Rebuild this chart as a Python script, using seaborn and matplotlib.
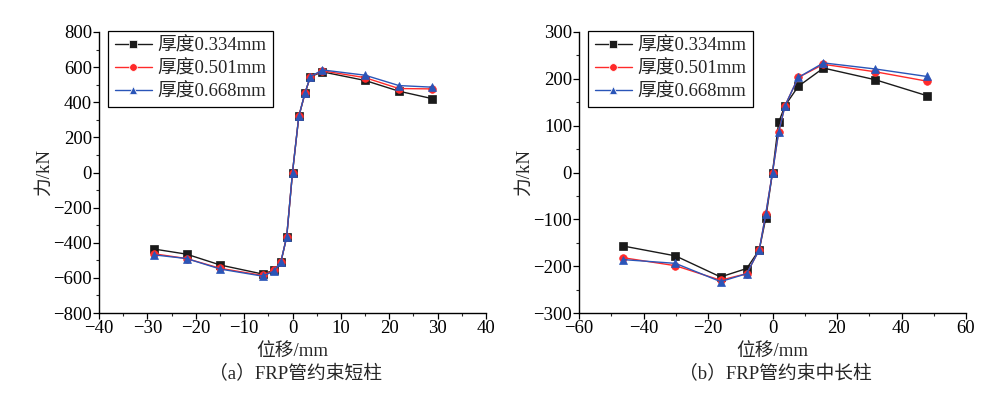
import numpy as np
import pandas as pd
import matplotlib
matplotlib.use("Agg")
import matplotlib.pyplot as plt
from matplotlib.ticker import MultipleLocator
import seaborn as sns

# ---- data ----
series_names = ["厚度0.334mm", "厚度0.501mm", "厚度0.668mm"]

# (a) short column
x_a = [-28.6, -21.9, -14.9, -6.2, -3.8, -2.4, -1.2, 0.0, 1.3, 2.6, 3.7, 6.2, 15.0, 22.0, 28.8]
y_a_334 = [-436, -465, -527, -578, -557, -510, -366, 0, 319, 453, 546, 573, 524, 463, 421]
y_a_501 = [-463, -490, -546, -586, -557, -510, -366, 0, 319, 453, 546, 579, 540, 478, 476]
y_a_668 = [-469, -490, -550, -590, -561, -508, -366, 0, 319, 455, 546, 584, 554, 495, 486]

# (b) medium-long column
x_b = [-46.3, -30.1, -16.1, -8.0, -4.1, -2.1, 0.0, 1.9, 3.9, 8.0, 15.8, 31.9, 47.9]
y_b_334 = [-157, -178, -223, -205, -165, -98, 0, 107, 143, 184, 223, 198, 164]
y_b_501 = [-182, -199, -230, -216, -165, -89, 0, 86, 143, 203, 231, 215, 195]
y_b_668 = [-186, -194, -233, -216, -165, -89, 0, 86, 143, 203, 234, 221, 205]

xlabel = "位移/mm"
ylabel = "力/kN"
captions = ["（a）FRP管约束短柱", "（b）FRP管约束中长柱"]

colors = ["#1a1a1a", "#ff2a2a", "#2a55b8"]
markers = ["s", "o", "^"]

def long_df(x, ys):
    frames = []
    for name, y in zip(series_names, ys):
        frames.append(pd.DataFrame({"x": x, "y": y, "series": name}))
    return pd.concat(frames, ignore_index=True)

df_a = long_df(x_a, [y_a_334, y_a_501, y_a_668])
df_b = long_df(x_b, [y_b_334, y_b_501, y_b_668])

sns.set_theme(style="ticks")
FAM = ["Liberation Serif", "Noto Sans CJK SC"]
plt.rcParams["font.family"] = FAM
plt.rcParams["axes.unicode_minus"] = True
FS = 13.5
plt.rcParams["font.size"] = FS

fig = plt.figure(figsize=(10.05, 3.98), dpi=100)
ax_a = fig.add_axes([99 / 1005, 1 - 313 / 398, 387 / 1005, 281 / 398])
ax_b = fig.add_axes([579 / 1005, 1 - 313 / 398, 387 / 1005, 281 / 398])

configs = [
    (ax_a, df_a, (-40, 40), 10, 5, (-800, 800), 200, 100),
    (ax_b, df_b, (-60, 60), 20, 10, (-300, 300), 100, 50),
]

pal = dict(zip(series_names, colors))
mk = dict(zip(series_names, markers))

for i, (ax, df, xl, xmaj, xmin, yl, ymaj, ymin) in enumerate(configs):
    sns.lineplot(data=df, x="x", y="y", hue="series", style="series",
                 palette=pal, markers=mk, dashes=False, sort=False,
                 estimator=None, ax=ax, linewidth=1.0, markersize=5.5,
                 markeredgewidth=0.5)
    for ln, c in zip(ax.lines, colors):
        ln.set_markeredgecolor(c)
    ax.set_xlim(*xl)
    ax.set_ylim(*yl)
    ax.xaxis.set_major_locator(MultipleLocator(xmaj))
    ax.xaxis.set_minor_locator(MultipleLocator(xmin))
    ax.yaxis.set_major_locator(MultipleLocator(ymaj))
    ax.yaxis.set_minor_locator(MultipleLocator(ymin))
    for s in ["top", "right"]:
        ax.spines[s].set_visible(False)
    for s in ["left", "bottom"]:
        ax.spines[s].set_color("black")
        ax.spines[s].set_linewidth(1.0)
    ax.tick_params(which="major", direction="out", length=4, width=0.9,
                   labelsize=FS, pad=1, colors="black")
    ax.tick_params(which="minor", direction="out", length=2.5, width=0.8)
    ax.set_xlabel(xlabel, fontsize=FS)
    ax.set_ylabel(ylabel, fontsize=FS)
    ax.xaxis.set_label_coords(0.5, -0.105)
    ax.yaxis.set_label_coords(-0.12, 0.5)
    leg = ax.legend(loc="upper left", bbox_to_anchor=(9 / 387, 1.005),
                    borderaxespad=0, fancybox=False, framealpha=1,
                    edgecolor="black", fontsize=FS, handlelength=2.0,
                    handletextpad=0.3, labelspacing=0.3, borderpad=0.35,
                    title=None)
    leg.get_frame().set_linewidth(0.9)
    cx = (ax.get_position().x0 + ax.get_position().x1) / 2
    fig.text(cx + 3 / 1005, 1 - 374 / 398, captions[i], ha="center", va="center",
             fontsize=FS, family=FAM)

fig.savefig("out.png", dpi=100)
